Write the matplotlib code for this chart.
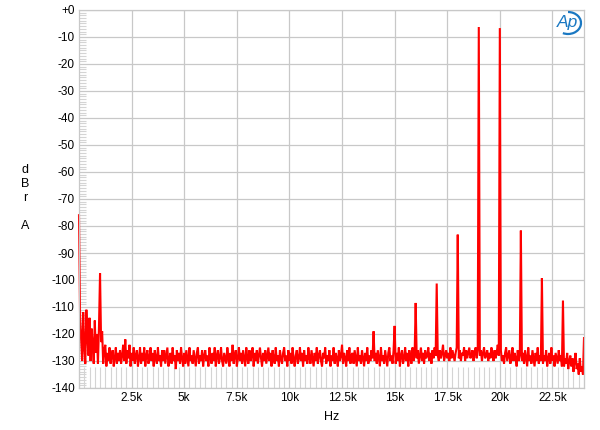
import numpy as np
import matplotlib
matplotlib.use("Agg")
import matplotlib.pyplot as plt
from matplotlib.ticker import MultipleLocator
from matplotlib.patches import Arc

# Spectrum levels (dBr A), 50 Hz steps, one row per kHz
spectrum_rows = [
    [-76, -113, -122, -130, -112, -125, -131, -111, -121, -128, -114, -130, -118, -124, -131, -115, -127, -120, -131, -117],
    [-97.5, -123, -119, -131, -126, -124, -132, -127, -130, -125, -131, -128, -126, -132, -129, -125, -131, -127, -130, -126],
    [-131, -128, -124, -130, -122, -131, -126, -129, -124, -132, -127, -130, -125, -131, -128, -126, -132, -129, -125, -131],
    [-127, -130, -125, -132, -128, -126, -131, -129, -125, -130, -127, -132, -126, -129, -131, -125, -130, -128, -132, -126],
    [-130, -126, -131, -128, -125, -132, -129, -127, -131, -125, -130, -128, -133, -126, -130, -127, -131, -125, -129, -132],
    [-127, -131, -126, -129, -132, -125, -130, -128, -131, -126, -129, -132, -127, -125, -131, -128, -130, -126, -132, -128],
    [-126, -130, -128, -132, -125, -129, -131, -127, -130, -125, -132, -128, -126, -131, -129, -125, -130, -132, -127, -129],
    [-131, -125, -129, -132, -127, -130, -124, -131, -128, -126, -132, -129, -125, -130, -127, -131, -126, -129, -132, -125],
    [-129, -131, -126, -130, -128, -125, -132, -127, -130, -126, -131, -128, -125, -129, -132, -127, -130, -126, -131, -128],
    [-125, -130, -127, -132, -126, -129, -131, -125, -130, -128, -132, -126, -129, -131, -127, -125, -130, -128, -132, -126],
    [-130, -127, -131, -125, -129, -132, -128, -126, -131, -129, -125, -130, -127, -132, -126, -130, -128, -131, -125, -129],
    [-131, -126, -129, -132, -127, -130, -125, -131, -128, -126, -130, -132, -127, -129, -125, -131, -128, -130, -126, -132],
    [-128, -130, -125, -131, -127, -129, -132, -126, -130, -128, -124, -131, -127, -129, -132, -126, -130, -125, -131, -128],
    [-127, -131, -126, -129, -132, -125, -130, -128, -131, -126, -129, -132, -127, -130, -125, -131, -128, -130, -126, -129],
    [-119, -130, -127, -131, -126, -129, -132, -125, -130, -128, -131, -126, -129, -132, -127, -125, -130, -128, -131, -126],
    [-117, -131, -127, -130, -125, -132, -128, -126, -131, -129, -125, -130, -127, -132, -126, -129, -131, -125, -130, -128],
    [-108.5, -129, -126, -131, -128, -125, -130, -127, -131, -126, -129, -128, -125, -130, -127, -131, -126, -129, -125, -128],
    [-101.3, -128, -130, -126, -129, -127, -124, -130, -128, -126, -129, -127, -130, -125, -129, -126, -128, -130, -127, -125],
    [-83.2, -129, -126, -130, -127, -128, -125, -130, -126, -129, -127, -125, -129, -128, -126, -130, -127, -125, -129, -126],
    [-6.3, -128, -126, -130, -127, -125, -129, -128, -126, -130, -127, -129, -125, -128, -130, -126, -129, -127, -124, -128],
    [-6.7, -126, -130, -128, -131, -127, -125, -130, -128, -126, -131, -129, -125, -130, -127, -129, -132, -126, -130, -128],
    [-81.7, -130, -127, -131, -126, -129, -132, -125, -130, -128, -131, -126, -129, -132, -127, -130, -125, -131, -128, -130],
    [-99.3, -131, -128, -130, -126, -132, -129, -127, -131, -125, -130, -128, -132, -127, -129, -131, -126, -130, -128, -132],
    [-107.6, -132, -129, -131, -127, -133, -130, -128, -132, -129, -134, -130, -127, -133, -131, -135, -129, -134, -132, -135],
    [-121.5],
]
freq_step_hz = 50

y_ticks = [0, -10, -20, -30, -40, -50, -60, -70, -80, -90, -100, -110, -120, -130, -140]
y_tick_labels = ["+0", "-10", "-20", "-30", "-40", "-50", "-60", "-70", "-80", "-90",
                 "-100", "-110", "-120", "-130", "-140"]
x_ticks = [2500, 5000, 7500, 10000, 12500, 15000, 17500, 20000, 22500]
x_tick_labels = ["2.5k", "5k", "7.5k", "10k", "12.5k", "15k", "17.5k", "20k", "22.5k"]

levels = np.concatenate([np.array(r, dtype=float) for r in spectrum_rows])
freqs = np.arange(len(levels)) * freq_step_hz

plt.rcParams['font.family'] = ['Liberation Sans', 'DejaVu Sans']

fig = plt.figure(figsize=(6.0, 4.3), dpi=100)
ax = fig.add_axes([79/600, 1 - 388/430, (584 - 79)/600, (388 - 10)/430])

grid_c = "#c8c8c8"
ax.set_xlim(0, 24000)
ax.set_ylim(-140, 0)
ax.set_xticks(x_ticks)
ax.set_xticklabels(x_tick_labels)
ax.set_yticks(y_ticks)
ax.set_yticklabels(y_tick_labels)
ax.grid(True, color=grid_c, linewidth=0.9)
ax.set_axisbelow(True)
for s in ax.spines.values():
    s.set_color(grid_c)
    s.set_linewidth(0.9)

ax.tick_params(axis='both', which='major', length=0, labelsize=8.5, colors="black", pad=3)
ax.xaxis.set_minor_locator(MultipleLocator(250))
ax.yaxis.set_minor_locator(MultipleLocator(1))
ax.tick_params(axis='x', which='minor', direction='in', length=15, color="#d4d4d4", width=0.8)
ax.tick_params(axis='y', which='minor', direction='in', length=5, color="#d4d4d4", width=0.8)

ax.plot(freqs, levels, color="#ff0000", linewidth=1.5, clip_on=False, solid_joinstyle="miter")

ax.set_xlabel("Hz", fontsize=9, labelpad=5)
fig.text(25/600, 1 - 198/430, "d\nB\nr\n\nA", fontsize=9, ha="center", va="center", linespacing=1.2)

logo_c = "#1a78c2"
fig.text(567/600, 1 - 22/430, "Ap", fontsize=12.5, color=logo_c, style="italic",
         ha="center", va="center")
fig.patches.append(Arc((568/600, 1 - 23/430), 26/600, 22/430, angle=0, theta1=-110, theta2=90,
                       transform=fig.transFigure, color=logo_c, linewidth=1.6))

fig.savefig("out.png", dpi=100)
